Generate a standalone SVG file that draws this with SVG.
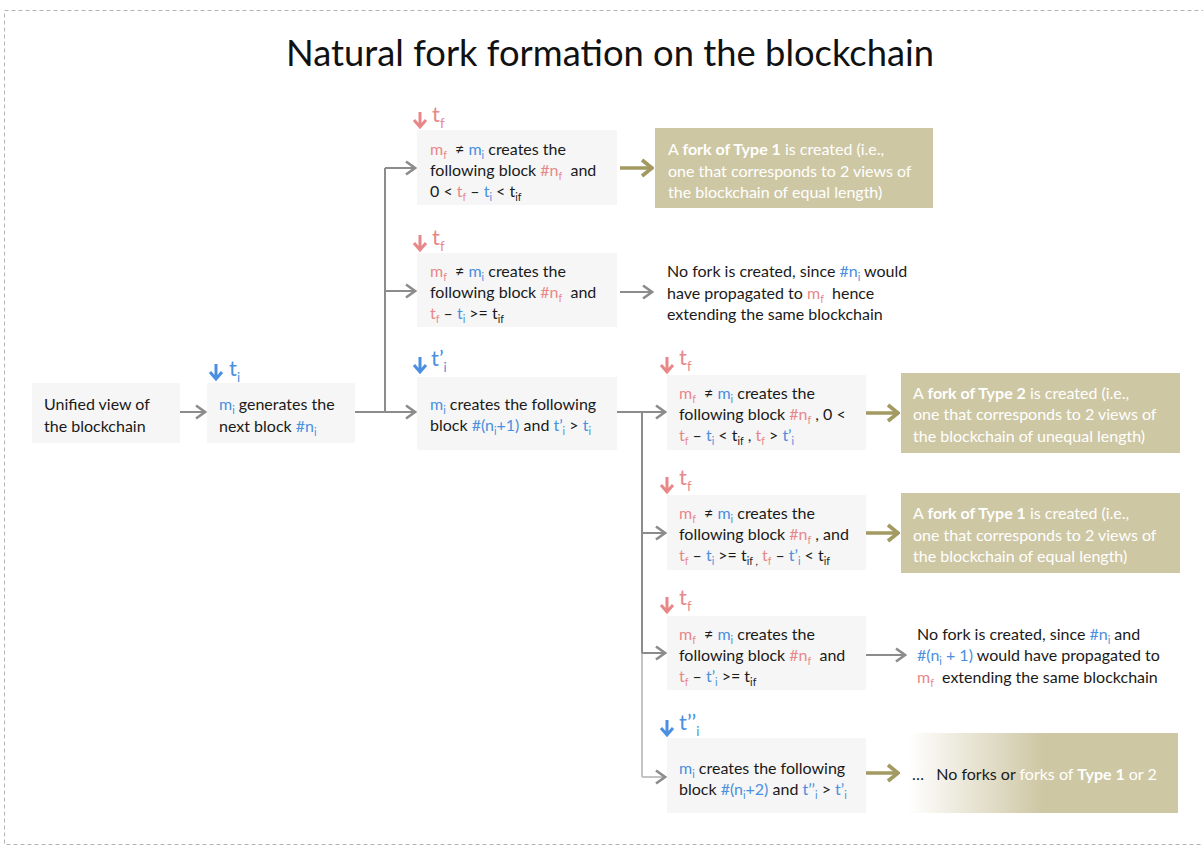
<svg xmlns="http://www.w3.org/2000/svg" xmlns:xlink="http://www.w3.org/1999/xlink" width="1203" height="846" viewBox="0 0 1203 846">
<style>
.t{font-family:Lato,"Open Sans","Liberation Sans",sans-serif;font-size:16px;fill:#1a1a1a;white-space:pre}
.p{fill:#e8878a}
.b{fill:#4a8fe0}
.w{fill:#ffffff}
.bd{font-weight:bold}
.s{font-size:10.5px;baseline-shift:-4px}
.box{fill:#f6f6f6}
.ol{fill:#cec7a4}
.tl{font-family:Lato,"Open Sans","Liberation Sans",sans-serif;font-size:22px}
.tls{font-size:13px;baseline-shift:-6px}
.dp{stroke:#e8878a}
.db{stroke:#4a8fe0}
.cg{fill:none;stroke:#8c8c8c;stroke-width:2}
.cl{fill:none;stroke:#c4c4c4;stroke-width:2}
.co{fill:none;stroke:#a39a62;stroke-width:3.5}
</style>
<defs>
<marker id="ag" viewBox="0 0 12 16" markerWidth="12" markerHeight="16" refX="10.5" refY="8" markerUnits="userSpaceOnUse" orient="auto">
<path d="M1.5,1.5 L10.5,8 L1.5,14.5" fill="none" stroke="#8c8c8c" stroke-width="2.6"/>
</marker>
<marker id="ao" viewBox="0 0 14 20" markerWidth="14" markerHeight="20" refX="12" refY="10" markerUnits="userSpaceOnUse" orient="auto">
<path d="M2,2 L12,10 L2,18" fill="none" stroke="#a39a62" stroke-width="3.8"/>
</marker>
<path id="da" d="M0,0 V15 M-6,8 L0,15 L6,8" fill="none" stroke-width="3"/>
<linearGradient id="gr" x1="0" y1="0" x2="1" y2="0">
<stop offset="0" stop-color="#ffffff"/>
<stop offset="0.5" stop-color="#cec7a4"/>
<stop offset="1" stop-color="#cec7a4"/>
</linearGradient>
</defs>
<rect x="4.5" y="10.5" width="1210" height="834" fill="none" stroke="#b4b4b4" stroke-width="1" stroke-dasharray="4 3"/>
<text x="286" y="66" font-family="Lato,'Open Sans','Liberation Sans',sans-serif" font-size="36" fill="#111" textLength="648" lengthAdjust="spacingAndGlyphs">Natural fork formation on the blockchain</text>

<g id="connectors">
<path class="cg" d="M180,412 H205" marker-end="url(#ag)"/>
<path class="cg" d="M355,412 H385 M385,168 V412"/>
<path class="cg" d="M385,168 H415" marker-end="url(#ag)"/>
<path class="cg" d="M385,291 H415" marker-end="url(#ag)"/>
<path class="cg" d="M385,412 H415" marker-end="url(#ag)"/>
<path class="cg" d="M617,412 H642 M642,412 V653"/>
<path class="cl" d="M642,653 V777"/>
<path class="cg" d="M642,412 H665" marker-end="url(#ag)"/>
<path class="cg" d="M642,533 H665" marker-end="url(#ag)"/>
<path class="cg" d="M642,653 H665" marker-end="url(#ag)"/>
<path class="cl" d="M642,777 H665" marker-end="url(#ag)"/>
<path class="cg" d="M620,292 H652" stroke-width="1.5" marker-end="url(#ag)"/>
<path class="cg" d="M866,655 H905" stroke-width="1.5" marker-end="url(#ag)"/>
<path class="co" d="M620,168 H652" marker-end="url(#ao)"/>
<path class="co" d="M866,413 H898" marker-end="url(#ao)"/>
<path class="co" d="M866,533 H898" marker-end="url(#ao)"/>
<path class="co" d="M866,773 H898" marker-end="url(#ao)"/>
</g>

<g id="n-unified">
<rect class="box" x="32" y="383" width="148" height="60"/>
<text class="t" x="44" y="410">Unified view of</text>
<text class="t" x="44" y="432">the blockchain</text>
</g>

<g id="n-generates">
<use href="#da" class="db" x="216" y="364"/>
<text class="tl b" x="229" y="376">t<tspan class="tls">i</tspan></text>
<rect class="box" x="207" y="383" width="148" height="60"/>
<text class="t" x="219" y="410"><tspan class="b">m<tspan class="s">i</tspan></tspan> generates the</text>
<text class="t" x="219" y="432">next block <tspan class="b">#n<tspan class="s">i</tspan></tspan></text>
</g>

<g id="n-fork1a">
<use href="#da" class="dp" x="420" y="112"/>
<text class="tl p" x="432" y="122">t<tspan class="tls">f</tspan></text>
<rect class="box" x="417" y="130" width="200" height="75"/>
<text class="t" x="430" y="155"><tspan class="p">m<tspan class="s">f</tspan></tspan>  ≠ <tspan class="b">m<tspan class="s">i</tspan></tspan> creates the</text>
<text class="t" x="430" y="176">following block <tspan class="p">#n<tspan class="s">f</tspan></tspan>  and</text>
<text class="t" x="430" y="197">0 &lt; <tspan class="p">t<tspan class="s">f</tspan></tspan> – <tspan class="b">t<tspan class="s">i</tspan></tspan> &lt; t<tspan class="s">if</tspan></text>
</g>

<g id="r-type1a">
<rect class="ol" x="655" y="128" width="278" height="80"/>
<text class="t w" x="668" y="155">A <tspan class="bd">fork of Type 1</tspan> is created (i.e.,</text>
<text class="t w" x="668" y="177">one that corresponds to 2 views of</text>
<text class="t w" x="668" y="198">the blockchain of equal length)</text>
</g>

<g id="n-nofork1">
<use href="#da" class="dp" x="420" y="235"/>
<text class="tl p" x="432" y="245">t<tspan class="tls">f</tspan></text>
<rect class="box" x="417" y="253" width="200" height="74"/>
<text class="t" x="430" y="277"><tspan class="p">m<tspan class="s">f</tspan></tspan>  ≠ <tspan class="b">m<tspan class="s">i</tspan></tspan> creates the</text>
<text class="t" x="430" y="298">following block <tspan class="p">#n<tspan class="s">f</tspan></tspan>  and</text>
<text class="t" x="430" y="319"><tspan class="p">t<tspan class="s">f</tspan></tspan> – <tspan class="b">t<tspan class="s">i</tspan></tspan> &gt;= t<tspan class="s">if</tspan></text>
</g>

<g id="r-nofork1">
<text class="t" x="667" y="277">No fork is created, since <tspan class="b">#n<tspan class="s">i</tspan></tspan> would</text>
<text class="t" x="667" y="299">have propagated to <tspan class="p">m<tspan class="s">f</tspan></tspan>  hence</text>
<text class="t" x="667" y="320">extending the same blockchain</text>
</g>

<g id="n-next1">
<use href="#da" class="db" x="420" y="357"/>
<text class="tl b" x="431" y="366">t’<tspan class="tls">i</tspan></text>
<rect class="box" x="417" y="377" width="200" height="73"/>
<text class="t" x="430" y="410"><tspan class="b">m<tspan class="s">i</tspan></tspan> creates the following</text>
<text class="t" x="430" y="431">block <tspan class="b">#(n<tspan class="s">i</tspan>+1)</tspan> and <tspan class="b">t’<tspan class="s">i</tspan></tspan> &gt; <tspan class="b">t<tspan class="s">i</tspan></tspan></text>
</g>

<g id="n-fork2">
<use href="#da" class="dp" x="667" y="357"/>
<text class="tl p" x="679" y="365">t<tspan class="tls">f</tspan></text>
<rect class="box" x="667" y="375" width="199" height="75"/>
<text class="t" x="679" y="399"><tspan class="p">m<tspan class="s">f</tspan></tspan>  ≠ <tspan class="b">m<tspan class="s">i</tspan></tspan> creates the</text>
<text class="t" x="679" y="420">following block <tspan class="p">#n<tspan class="s">f</tspan></tspan> , 0 &lt;</text>
<text class="t" x="679" y="441"><tspan class="p">t<tspan class="s">f</tspan></tspan> – <tspan class="b">t<tspan class="s">i</tspan></tspan> &lt; t<tspan class="s">if</tspan> , <tspan class="p">t<tspan class="s">f</tspan></tspan> &gt; <tspan class="b">t’<tspan class="s">i</tspan></tspan></text>
</g>

<g id="r-type2">
<rect class="ol" x="901" y="373" width="279" height="80"/>
<text class="t w" x="913" y="399">A <tspan class="bd">fork of Type 2</tspan> is created (i.e.,</text>
<text class="t w" x="913" y="420">one that corresponds to 2 views of</text>
<text class="t w" x="913" y="442">the blockchain of unequal length)</text>
</g>

<g id="n-fork1b">
<use href="#da" class="dp" x="667" y="477"/>
<text class="tl p" x="679" y="485">t<tspan class="tls">f</tspan></text>
<rect class="box" x="667" y="495" width="199" height="75"/>
<text class="t" x="679" y="519"><tspan class="p">m<tspan class="s">f</tspan></tspan>  ≠ <tspan class="b">m<tspan class="s">i</tspan></tspan> creates the</text>
<text class="t" x="679" y="540">following block <tspan class="p">#n<tspan class="s">f</tspan></tspan> , and</text>
<text class="t" x="679" y="561"><tspan class="p">t<tspan class="s">f</tspan></tspan> – <tspan class="b">t<tspan class="s">i</tspan></tspan> &gt;= t<tspan class="s">if ,</tspan> <tspan class="p">t<tspan class="s">f</tspan></tspan> – <tspan class="b">t’<tspan class="s">i</tspan></tspan> &lt; t<tspan class="s">if</tspan></text>
</g>

<g id="r-type1b">
<rect class="ol" x="901" y="493" width="279" height="80"/>
<text class="t w" x="913" y="519">A <tspan class="bd">fork of Type 1</tspan> is created (i.e.,</text>
<text class="t w" x="913" y="541">one that corresponds to 2 views of</text>
<text class="t w" x="913" y="562">the blockchain of equal length)</text>
</g>

<g id="n-nofork2">
<use href="#da" class="dp" x="667" y="597"/>
<text class="tl p" x="679" y="605">t<tspan class="tls">f</tspan></text>
<rect class="box" x="667" y="616" width="199" height="74"/>
<text class="t" x="679" y="640"><tspan class="p">m<tspan class="s">f</tspan></tspan>  ≠ <tspan class="b">m<tspan class="s">i</tspan></tspan> creates the</text>
<text class="t" x="679" y="661">following block <tspan class="p">#n<tspan class="s">f</tspan></tspan>  and</text>
<text class="t" x="679" y="682"><tspan class="p">t<tspan class="s">f</tspan></tspan> – <tspan class="b">t’<tspan class="s">i</tspan></tspan> &gt;= t<tspan class="s">if</tspan></text>
</g>

<g id="r-nofork2">
<text class="t" x="917" y="640">No fork is created, since <tspan class="b">#n<tspan class="s">i</tspan></tspan> and</text>
<text class="t" x="917" y="661"><tspan class="b">#(n<tspan class="s">i</tspan> + 1)</tspan> would have propagated to</text>
<text class="t" x="917" y="683"><tspan class="p">m<tspan class="s">f</tspan></tspan>  extending the same blockchain</text>
</g>

<g id="n-next2">
<use href="#da" class="db" x="667" y="720"/>
<text class="tl b" x="679" y="730">t’’<tspan class="tls">i</tspan></text>
<rect class="box" x="667" y="738" width="199" height="75"/>
<text class="t" x="679" y="774"><tspan class="b">m<tspan class="s">i</tspan></tspan> creates the following</text>
<text class="t" x="679" y="795">block <tspan class="b">#(n<tspan class="s">i</tspan>+2)</tspan> and <tspan class="b">t’’<tspan class="s">i</tspan></tspan> &gt; <tspan class="b">t’<tspan class="s">i</tspan></tspan></text>
</g>

<g id="r-more">
<rect x="908" y="733" width="270" height="80" fill="url(#gr)"/>
<text class="t" x="912" y="780">…   No forks or <tspan class="w">forks of <tspan class="bd">Type 1</tspan> or 2</tspan></text>
</g>
</svg>
